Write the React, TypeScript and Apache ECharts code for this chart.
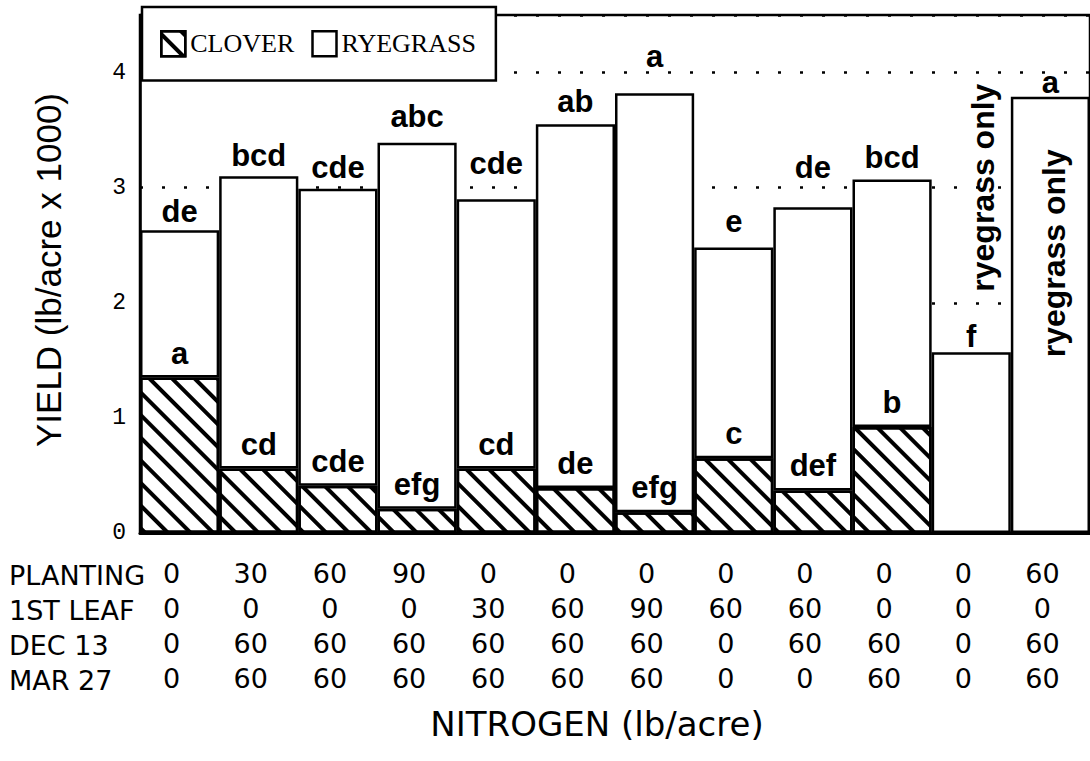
import React, { useEffect, useRef } from "react";
import * as echarts from "echarts";

// ---- data ----
const treatments = ["T1", "T2", "T3", "T4", "T5", "T6", "T7", "T8", "T9", "T10", "T11", "T12"];
const planting = [0, 30, 60, 90, 0, 0, 0, 0, 0, 0, 0, 60];
const firstLeaf = [0, 0, 0, 0, 30, 60, 90, 60, 60, 0, 0, 0];
const dec13 = [0, 60, 60, 60, 60, 60, 60, 0, 60, 60, 0, 60];
const mar27 = [0, 60, 60, 60, 60, 60, 60, 0, 0, 60, 0, 60];
const rowNames = ["PLANTING", "1ST LEAF", "DEC 13", "MAR 27"];

const totalYield = [2.63, 3.1, 2.99, 3.39, 2.9, 3.55, 3.82, 2.48, 2.83, 3.07, 1.57, 3.79];
const cloverYield = [1.35, 0.56, 0.41, 0.21, 0.56, 0.39, 0.18, 0.65, 0.37, 0.92, 0, 0];
const totalLetters = ["de", "bcd", "cde", "abc", "cde", "ab", "a", "e", "de", "bcd", "f", "a"];
const cloverLetters = ["a", "cd", "cde", "efg", "cd", "de", "efg", "c", "def", "b", "", ""];
const ryegrassOnlyIdx = [10, 11];
const ryegrassOnlyY = [3.0, 2.43];
const yTicks = [0, 1, 2, 3, 4];

// ---- styling (label lifts, offsets) ----
const totalLabelLift = [3, 5, 6, 11, 20, 7, 21, 11, 24, 7, 0, -1];
const annotationDx = [12, 4];

const ryegrassYield = totalYield.map((t, i) => +(t - cloverYield[i]).toFixed(3));

const BOLD = { fontFamily: "Liberation Sans", fontWeight: "bold" as const, fontSize: 31, color: "#000" };

export default function App() {
  const ref = useRef<HTMLDivElement>(null);

  useEffect(() => {
    if (!ref.current) return;
    const chart = echarts.init(ref.current, null, { renderer: "svg" });

    const option: any = {
      animation: false,
      backgroundColor: "#fff",
      grid: {
        left: 140,
        top: 15,
        width: 956,
        height: 518,
        show: true,
        borderColor: "#000",
        borderWidth: 2.5,
        backgroundColor: "transparent",
      },
      legend: {
        left: 142,
        top: 7,
        orient: "horizontal",
        padding: [23, 20, 23, 18],
        itemWidth: 24,
        itemHeight: 25,
        itemGap: 17,
        borderColor: "#000",
        borderWidth: 2.5,
        backgroundColor: "#fff",
        selectedMode: false,
        icon: "rect",
        itemStyle: { borderColor: "#000", borderWidth: 2.5 },
        textStyle: { fontFamily: "Liberation Serif", fontSize: 26, color: "#000" },
        data: ["CLOVER", "RYEGRASS"],
        z: 20,
      },
      xAxis: {
        type: "category",
        data: treatments,
        axisTick: { show: false },
        axisLine: { show: true, lineStyle: { color: "#000", width: 3 } },
        splitLine: { show: false },
        axisLabel: {
          interval: 0,
          margin: 23,
          color: "#000",
          fontFamily: "DejaVu Sans",
          fontSize: 27,
          lineHeight: 35,
          padding: [0, 16, 0, 0],
          formatter: (_v: string, i: number) =>
            [planting[i], firstLeaf[i], dec13[i], mar27[i]].join("\n"),
        },
      },
      yAxis: {
        type: "value",
        min: 0,
        max: 4.5,
        interval: 1,
        axisTick: { show: false },
        axisLine: { show: true, lineStyle: { color: "#000", width: 2.5 } },
        splitLine: { show: true, lineStyle: { color: "#000", width: 2.5, type: [3, 19] } },
        axisLabel: {
          margin: 14,
          color: "#000",
          fontFamily: "Liberation Mono",
          fontSize: 23,
          formatter: (v: number) => (yTicks.includes(v) ? String(v) : ""),
        },
      },
      series: [
        {
          name: "CLOVER",
          type: "bar",
          stack: "yield",
          barCategoryGap: "0%",
          data: cloverYield,
          itemStyle: {
            color: "#fff",
            borderColor: "#000",
            borderWidth: 2.5,
            decal: {
              symbol: "rect",
              symbolSize: 1,
              dashArrayX: [1, 0],
              dashArrayY: [4, 11.5],
              rotation: Math.PI / 4,
              color: "#000",
            },
          },
          label: {
            show: true,
            position: "top",
            distance: 9,
            ...BOLD,
            formatter: (p: any) => cloverLetters[p.dataIndex],
          },
        },
        {
          name: "RYEGRASS",
          type: "bar",
          stack: "yield",
          barCategoryGap: "0%",
          data: ryegrassYield.map((v, i) => ({
            value: v,
            label: { distance: totalLabelLift[i] },
          })),
          itemStyle: { color: "#fff", borderColor: "#000", borderWidth: 2.5 },
          label: {
            show: true,
            position: "top",
            ...BOLD,
            formatter: (p: any) => totalLetters[p.dataIndex],
          },
        },
      ],
    };

    chart.setOption(option);

    const staticGraphics: any[] = [
      ...rowNames.map((name, i) => ({
        type: "text",
        x: 9,
        y: 575 + i * 35,
        style: {
          text: name,
          fontFamily: "DejaVu Sans",
          fontSize: 27,
          fill: "#000",
          textAlign: "left",
          textVerticalAlign: "middle",
        },
      })),
      {
        type: "text",
        x: 48,
        y: 270,
        rotation: Math.PI / 2,
        style: {
          text: "YIELD (lb/acre x 1000)",
          fontFamily: "Liberation Sans",
          fontSize: 35,
          fill: "#000",
          textAlign: "center",
          textVerticalAlign: "middle",
        },
      },
      {
        type: "text",
        x: 597,
        y: 724,
        style: {
          text: "NITROGEN (lb/acre)",
          fontFamily: "DejaVu Sans",
          fontSize: 34,
          fill: "#000",
          textAlign: "center",
          textVerticalAlign: "middle",
        },
      },
    ];

    const annotations = ryegrassOnlyIdx.map((idx, k) => {
      const p = chart.convertToPixel({ xAxisIndex: 0, yAxisIndex: 0 }, [treatments[idx], ryegrassOnlyY[k]]) as number[];
      return {
        type: "text",
        x: p[0] + annotationDx[k],
        y: p[1],
        rotation: Math.PI / 2,
        z: 30,
        style: {
          text: "ryegrass only",
          fontFamily: "Liberation Sans",
          fontWeight: "bold",
          fontSize: 32,
          fill: "#000",
          textAlign: "center",
          textVerticalAlign: "middle",
        },
      };
    });

    chart.setOption({ graphic: [...staticGraphics, ...annotations] });

    return () => chart.dispose();
  }, []);

  return (
    <div
      ref={ref}
      style={{ position: "fixed", left: 0, top: 0, width: 1090, height: 761, background: "#fff" }}
    />
  );
}
